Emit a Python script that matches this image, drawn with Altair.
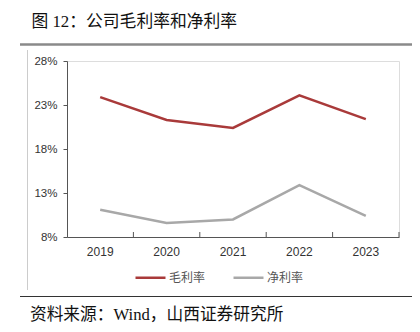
import altair as alt
import pandas as pd

years = ["2019", "2020", "2021", "2022", "2023"]
gross_margin = [23.9, 21.3, 20.4, 24.1, 21.4]
net_margin = [11.1, 9.6, 10.0, 13.9, 10.4]
series_names = ["毛利率", "净利率"]
y_ticks = [8, 13, 18, 23, 28]

title_text = "图 12：公司毛利率和净利率"
source_text = "资料来源：Wind，山西证券研究所"

rows = []
for i, yr in enumerate(years):
    rows.append({"year": yr, "series": series_names[0], "value": gross_margin[i]})
    rows.append({"year": yr, "series": series_names[1], "value": net_margin[i]})
df = pd.DataFrame(rows)
ydf = pd.DataFrame({"year": years})

W, H = 332, 176
FONT = "Liberation Sans, Noto Sans CJK SC"
SERIF = "Liberation Serif, Noto Sans CJK SC"

xscale = alt.Scale(domain=years, paddingInner=0, paddingOuter=0)
yscale = alt.Scale(domain=[8, 28], nice=False, zero=False)

lines = alt.Chart(df).mark_line(strokeWidth=2.5).encode(
    x=alt.X("year:N", scale=xscale, sort=years,
            axis=alt.Axis(title=None, labelAngle=0, ticks=False, domain=True,
                          domainColor="#555555", labelFont=FONT, labelFontSize=12,
                          labelColor="#333333", labelPadding=9)),
    y=alt.Y("value:Q", scale=yscale,
            axis=alt.Axis(title=None, values=y_ticks, grid=False,
                          labelExpr="datum.value + '%'", domainColor="#555555",
                          tickColor="#555555", tickSize=4, labelFont=FONT,
                          labelFontSize=11.5, labelColor="#333333", labelPadding=6)),
    color=alt.Color("series:N", sort=series_names,
                    scale=alt.Scale(domain=series_names, range=["#A93A3A", "#A8A8A8"]),
                    legend=alt.Legend(title=None, orient="none", legendX=67, legendY=200,
                                      direction="horizontal", symbolType="stroke",
                                      symbolSize=900, symbolStrokeWidth=2.5,
                                      labelFont="Noto Sans CJK SC", labelFontSize=12,
                                      labelColor="#555555", columnPadding=22,
                                      labelOffset=2)),
)

xticks = alt.Chart(ydf).mark_rule(color="#555555", strokeWidth=1).encode(
    x=alt.X("year:N", scale=xscale, sort=years, bandPosition=1),
    y=alt.value(H - 5),
    y2=alt.value(H),
)

top_line = alt.Chart(ydf).mark_rule(color="#8a8a8a", strokeWidth=1.5).encode(
    x=alt.value(-47), x2=alt.value(345), y=alt.value(-16.5)
)
bottom_line = alt.Chart(ydf).mark_rule(color="#333333", strokeWidth=1.2).encode(
    x=alt.value(-47), x2=alt.value(345), y=alt.value(235.5)
)
left_line = alt.Chart(ydf).mark_rule(color="#cccccc", strokeWidth=1).encode(
    x=alt.value(-39.5), y=alt.value(-11), y2=alt.value(229)
)

title = alt.Chart(pd.DataFrame({"t": [title_text]})).mark_text(
    align="left", baseline="middle", font=SERIF, fontSize=16.8, color="#111111"
).encode(x=alt.value(-35.5), y=alt.value(-39.5), text="t:N")

source = alt.Chart(pd.DataFrame({"t": [source_text]})).mark_text(
    align="left", baseline="middle", font=SERIF, fontSize=16.7, color="#111111"
).encode(x=alt.value(-37), y=alt.value(254), text="t:N")

chart = alt.layer(lines, xticks, top_line, bottom_line, left_line, title, source).properties(
    width=W, height=H,
    autosize=alt.AutoSizeParams(type="none"),
    padding={"left": 67, "top": 61, "right": 21, "bottom": 95},
).configure_view(stroke=None).configure(background="white")

chart.save("out.html", embed_options={"renderer": "svg", "actions": False})
